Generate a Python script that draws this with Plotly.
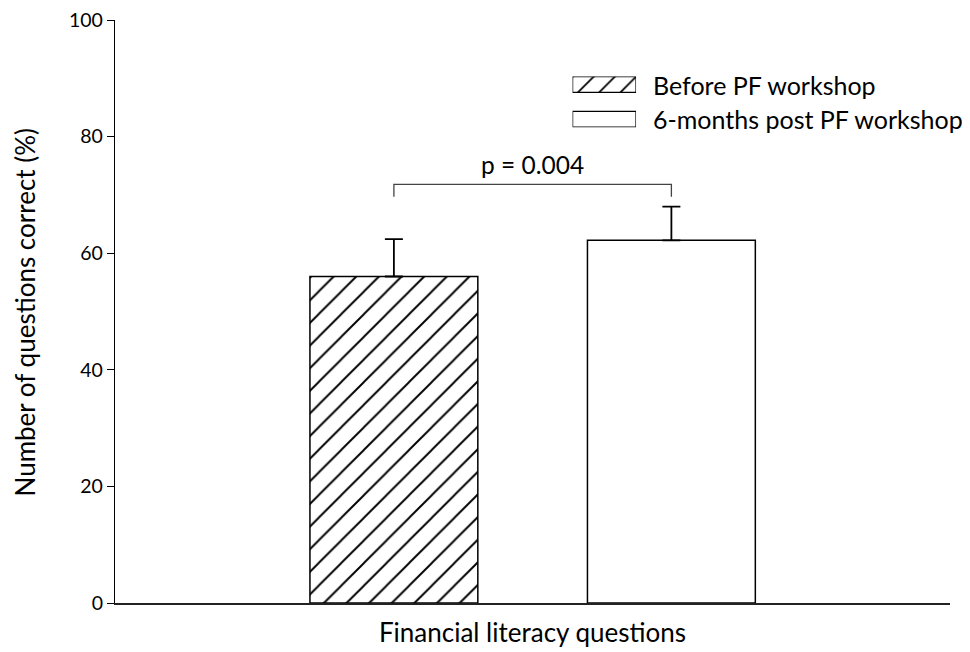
import plotly.graph_objects as go

series_names = ["Before PF workshop", "6-months post PF workshop"]
means = [56.0, 62.2]
errors = [6.4, 5.8]
p_label = "p = 0.004"
y_ticks = [0, 20, 40, 60, 80, 100]
x_title = "Financial literacy questions"
y_title = "Number of questions correct (%)"

FONT = "Lato"
fig = go.Figure()

positions = [0, 1]
patterns = ["/", ""]
for i in range(2):
    fig.add_trace(go.Bar(
        x=[positions[i]], y=[means[i]], width=0.605, name=series_names[i],
        marker=dict(color="white", line=dict(color="black", width=1.5),
                    pattern=dict(shape=patterns[i], size=16, solidity=0.12,
                                 fgcolor="black", fgopacity=1, bgcolor="white")),
        error_y=dict(type="data", array=[errors[i]], arrayminus=[0], symmetric=False,
                     color="black", thickness=1.8, width=9),
        showlegend=False,
    ))

# significance bracket
br_top = max(m + e for m, e in zip(means, errors)) + 3.8
fig.add_trace(go.Scatter(
    x=[positions[0], positions[0], positions[1], positions[1]],
    y=[br_top - 2.1, br_top, br_top, br_top - 2.1],
    mode="lines", line=dict(color="#444444", width=1.3), showlegend=False,
    hoverinfo="skip"))
fig.add_annotation(x=0.5, y=br_top + 3.4, text=p_label, showarrow=False,
                   font=dict(family=FONT, size=24.5, color="black"),
                   xref="x", yref="y", yanchor="middle")

# custom legend swatches (wide rectangles) on an inset axis
leg_y = [1, 0]
for i in range(2):
    fig.add_trace(go.Bar(
        x=[1], y=[leg_y[i]], orientation="h", width=0.457, xaxis="x2", yaxis="y2",
        marker=dict(color="white", line=dict(color="black", width=1.3),
                    pattern=dict(shape=patterns[i], size=15, solidity=0.12,
                                 fgcolor="black", fgopacity=1, bgcolor="white")),
        showlegend=False, hoverinfo="skip"))
    fig.add_annotation(xref="paper", yref="y2", x=0.6416, y=leg_y[i], xanchor="left",
                       yanchor="middle", text=series_names[i], showarrow=False,
                       font=dict(family=FONT, size=25, color="black"))

# y-axis title placed as rotated annotation
fig.add_annotation(xref="paper", yref="paper", x=-0.1078, y=0.5, text=y_title,
                   textangle=-90, showarrow=False, xanchor="center", yanchor="middle",
                   font=dict(family=FONT, size=26, color="black"))

fig.update_layout(
    width=962, height=644,
    margin=dict(l=107, r=20, t=12, b=48.5, autoexpand=False),
    paper_bgcolor="white", plot_bgcolor="white",
    font=dict(family=FONT, color="black"),
    barmode="overlay",
    xaxis=dict(range=[-1.005, 2.004], showticklabels=False, ticks="", showgrid=False,
               zeroline=False, showline=True, linecolor="#222222", linewidth=2,
               automargin=False,
               title=dict(text=x_title, font=dict(family=FONT, size=26), standoff=20)),
    yaxis=dict(range=[0, 100], tickvals=y_ticks, ticks="outside", ticklen=7,
               tickwidth=1.3, tickcolor="black", showgrid=False, zeroline=False,
               showline=True, linecolor="black", linewidth=1.3,
               ticklabeloverflow="allow", automargin=False,
               tickfont=dict(family=FONT, size=19.5)),
    xaxis2=dict(domain=[0.548, 0.624], range=[0, 1], visible=False, anchor="y2"),
    yaxis2=dict(domain=[0.816, 0.903], range=[-0.2286, 1.2286], visible=False, anchor="x2"),
)

fig.write_html("out.html")
